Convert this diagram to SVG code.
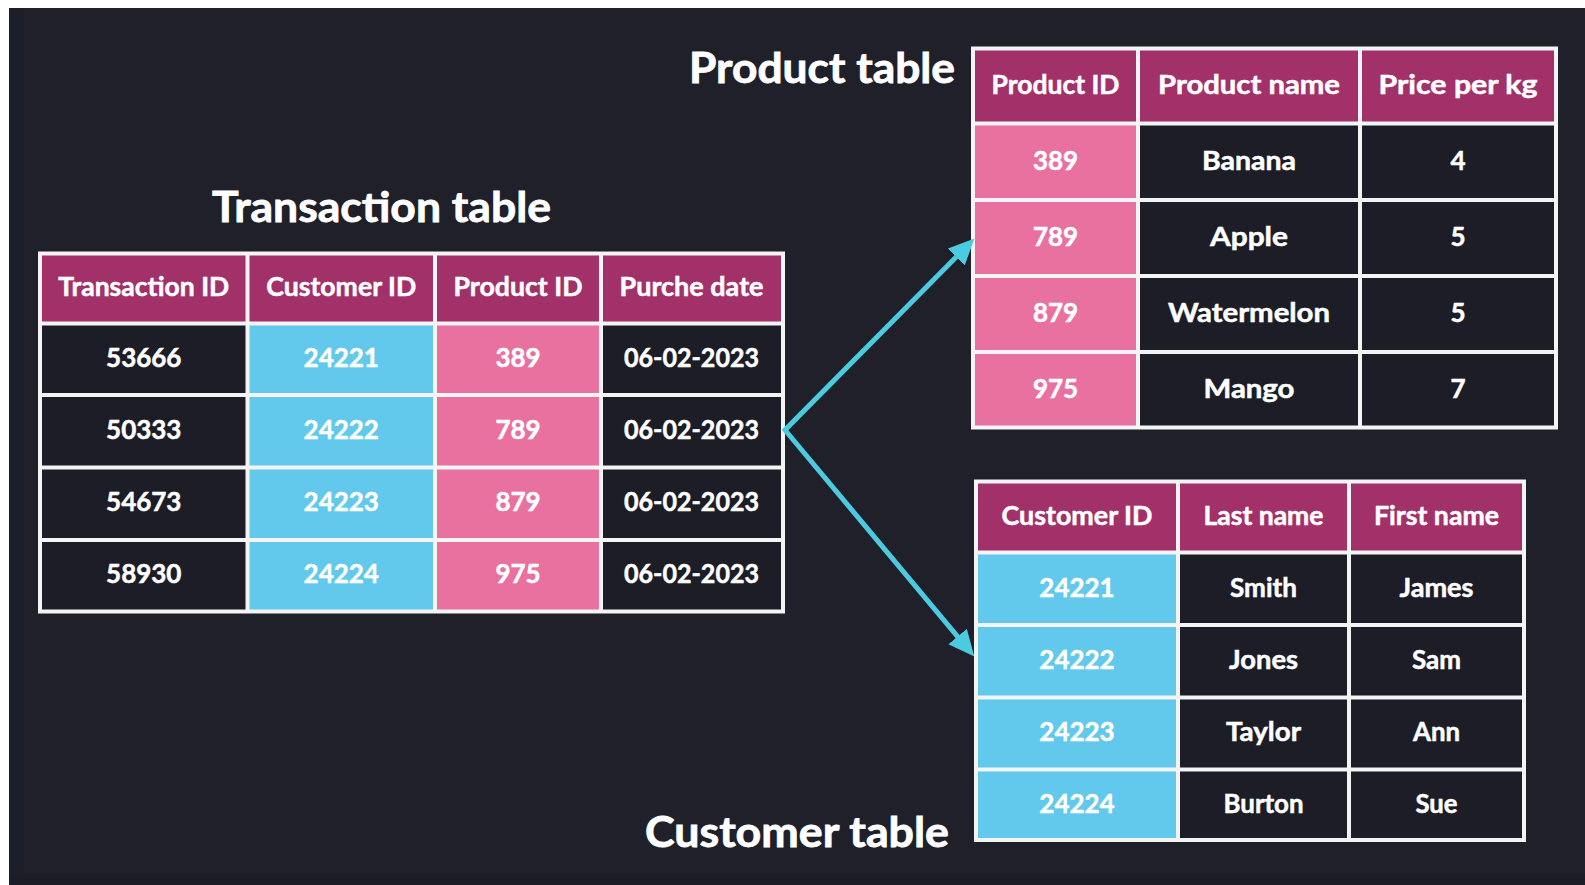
<svg xmlns="http://www.w3.org/2000/svg" width="1585" height="885" viewBox="0 0 1585 885">
  <defs>
    <style>
      .frame { fill: #f4f4f4; }
      .hd { fill: #a2316a; }
      .pk { fill: #e9719f; }
      .bl { fill: #62c9ec; }
      .dk { fill: #1c1d26; }
      .t { font-family: Lato, "Open Sans", "Liberation Sans", sans-serif; font-weight: 700; font-size: 26px; fill: #ffffff; stroke: #ffffff; stroke-width: 0.5px; text-anchor: middle; }
      .title { font-family: Lato, "Open Sans", "Liberation Sans", sans-serif; font-weight: 700; font-size: 42px; fill: #ffffff; stroke: #ffffff; stroke-width: 0.8px; }
      .link { fill: none; stroke: #4bcbdf; stroke-width: 5; stroke-linejoin: miter; stroke-miterlimit: 10; }
    </style>
    <marker id="head" markerUnits="userSpaceOnUse" markerWidth="27" markerHeight="25" refX="14" refY="12" orient="auto-start-reverse">
      <path d="M0,0 L26,12 L0,24 z" fill="#4bcbdf"/>
    </marker>
  </defs>

  <!-- page -->
  <rect x="0" y="0" width="1585" height="885" fill="#ffffff"/>
  <rect x="9" y="8" width="1576" height="877" fill="#1f2029"/>
  <rect x="9" y="8" width="14" height="877" fill="#1c1e2a"/>
  <rect x="9" y="874" width="1576" height="11" fill="#1c1d26"/>

  <!-- titles -->
  <text class="title" x="212" y="222" textLength="339" lengthAdjust="spacingAndGlyphs">Transaction table</text>
  <text class="title" x="689" y="83" textLength="266" lengthAdjust="spacingAndGlyphs">Product table</text>
  <text class="title" x="645" y="847" textLength="304" lengthAdjust="spacingAndGlyphs">Customer table</text>

  <!-- Transaction table -->
  <g id="transaction-table">
    <rect class="frame" x="38" y="251.5" width="747" height="362"/>
    <!-- header -->
    <rect class="hd" x="42" y="255.5" width="203.5" height="66"/>
    <rect class="hd" x="249.5" y="255.5" width="183.5" height="66"/>
    <rect class="hd" x="437" y="255.5" width="162" height="66"/>
    <rect class="hd" x="603" y="255.5" width="178" height="66"/>
    <!-- row 1 -->
    <rect class="dk" x="42" y="325.5" width="203.5" height="67.5"/>
    <rect class="bl" x="249.5" y="325.5" width="183.5" height="67.5"/>
    <rect class="pk" x="437" y="325.5" width="162" height="67.5"/>
    <rect class="dk" x="603" y="325.5" width="178" height="67.5"/>
    <!-- row 2 -->
    <rect class="dk" x="42" y="397" width="203.5" height="68.5"/>
    <rect class="bl" x="249.5" y="397" width="183.5" height="68.5"/>
    <rect class="pk" x="437" y="397" width="162" height="68.5"/>
    <rect class="dk" x="603" y="397" width="178" height="68.5"/>
    <!-- row 3 -->
    <rect class="dk" x="42" y="469.5" width="203.5" height="68.5"/>
    <rect class="bl" x="249.5" y="469.5" width="183.5" height="68.5"/>
    <rect class="pk" x="437" y="469.5" width="162" height="68.5"/>
    <rect class="dk" x="603" y="469.5" width="178" height="68.5"/>
    <!-- row 4 -->
    <rect class="dk" x="42" y="542" width="203.5" height="67.5"/>
    <rect class="bl" x="249.5" y="542" width="183.5" height="67.5"/>
    <rect class="pk" x="437" y="542" width="162" height="67.5"/>
    <rect class="dk" x="603" y="542" width="178" height="67.5"/>

    <text class="t" x="143.75" y="296" textLength="171" lengthAdjust="spacingAndGlyphs">Transaction ID</text>
    <text class="t" x="341.25" y="296" textLength="150" lengthAdjust="spacingAndGlyphs">Customer ID</text>
    <text class="t" x="518" y="296" textLength="129" lengthAdjust="spacingAndGlyphs">Product ID</text>
    <text class="t" x="691.5" y="296" textLength="144" lengthAdjust="spacingAndGlyphs">Purche date</text>

    <text class="t" x="143.75" y="367">53666</text>
    <text class="t" x="341.25" y="367">24221</text>
    <text class="t" x="518" y="367">389</text>
    <text class="t" x="691.5" y="367" textLength="135" lengthAdjust="spacingAndGlyphs">06-02-2023</text>

    <text class="t" x="143.75" y="439">50333</text>
    <text class="t" x="341.25" y="439">24222</text>
    <text class="t" x="518" y="439">789</text>
    <text class="t" x="691.5" y="439" textLength="135" lengthAdjust="spacingAndGlyphs">06-02-2023</text>

    <text class="t" x="143.75" y="511">54673</text>
    <text class="t" x="341.25" y="511">24223</text>
    <text class="t" x="518" y="511">879</text>
    <text class="t" x="691.5" y="511" textLength="135" lengthAdjust="spacingAndGlyphs">06-02-2023</text>

    <text class="t" x="143.75" y="583">58930</text>
    <text class="t" x="341.25" y="583">24224</text>
    <text class="t" x="518" y="583">975</text>
    <text class="t" x="691.5" y="583" textLength="135" lengthAdjust="spacingAndGlyphs">06-02-2023</text>
  </g>

  <!-- Product table -->
  <g id="product-table">
    <rect class="frame" x="971" y="46.5" width="587" height="383"/>
    <rect class="hd" x="975" y="50.5" width="161" height="71"/>
    <rect class="hd" x="1140" y="50.5" width="218" height="71"/>
    <rect class="hd" x="1362" y="50.5" width="192" height="71"/>

    <rect class="pk" x="975" y="125.5" width="161" height="72.5"/>
    <rect class="dk" x="1140" y="125.5" width="218" height="72.5"/>
    <rect class="dk" x="1362" y="125.5" width="192" height="72.5"/>

    <rect class="pk" x="975" y="202" width="161" height="72"/>
    <rect class="dk" x="1140" y="202" width="218" height="72"/>
    <rect class="dk" x="1362" y="202" width="192" height="72"/>

    <rect class="pk" x="975" y="278" width="161" height="72"/>
    <rect class="dk" x="1140" y="278" width="218" height="72"/>
    <rect class="dk" x="1362" y="278" width="192" height="72"/>

    <rect class="pk" x="975" y="354" width="161" height="71.5"/>
    <rect class="dk" x="1140" y="354" width="218" height="71.5"/>
    <rect class="dk" x="1362" y="354" width="192" height="71.5"/>

    <text class="t" x="1055.5" y="93.5" textLength="128" lengthAdjust="spacingAndGlyphs">Product ID</text>
    <text class="t" x="1249" y="93.5" textLength="182" lengthAdjust="spacingAndGlyphs">Product name</text>
    <text class="t" x="1458" y="93.5" textLength="159" lengthAdjust="spacingAndGlyphs">Price per kg</text>

    <text class="t" x="1055.5" y="169.5">389</text>
    <text class="t" x="1249" y="169.5" textLength="94" lengthAdjust="spacingAndGlyphs">Banana</text>
    <text class="t" x="1458" y="169.5">4</text>

    <text class="t" x="1055.5" y="245.5">789</text>
    <text class="t" x="1249" y="245.5" textLength="78" lengthAdjust="spacingAndGlyphs">Apple</text>
    <text class="t" x="1458" y="245.5">5</text>

    <text class="t" x="1055.5" y="321.5">879</text>
    <text class="t" x="1249" y="321.5" textLength="162" lengthAdjust="spacingAndGlyphs">Watermelon</text>
    <text class="t" x="1458" y="321.5">5</text>

    <text class="t" x="1055.5" y="397.5">975</text>
    <text class="t" x="1249" y="397.5" textLength="91" lengthAdjust="spacingAndGlyphs">Mango</text>
    <text class="t" x="1458" y="397.5">7</text>
  </g>

  <!-- Customer table -->
  <g id="customer-table">
    <rect class="frame" x="974" y="479.5" width="552" height="362.5"/>
    <rect class="hd" x="978" y="483.5" width="198" height="67"/>
    <rect class="hd" x="1180" y="483.5" width="167" height="67"/>
    <rect class="hd" x="1351" y="483.5" width="171" height="67"/>

    <rect class="bl" x="978" y="554.5" width="198" height="68.5"/>
    <rect class="dk" x="1180" y="554.5" width="167" height="68.5"/>
    <rect class="dk" x="1351" y="554.5" width="171" height="68.5"/>

    <rect class="bl" x="978" y="627" width="198" height="68.5"/>
    <rect class="dk" x="1180" y="627" width="167" height="68.5"/>
    <rect class="dk" x="1351" y="627" width="171" height="68.5"/>

    <rect class="bl" x="978" y="699.5" width="198" height="68"/>
    <rect class="dk" x="1180" y="699.5" width="167" height="68"/>
    <rect class="dk" x="1351" y="699.5" width="171" height="68"/>

    <rect class="bl" x="978" y="771.5" width="198" height="66.5"/>
    <rect class="dk" x="1180" y="771.5" width="167" height="66.5"/>
    <rect class="dk" x="1351" y="771.5" width="171" height="66.5"/>

    <text class="t" x="1077" y="524.5" textLength="151" lengthAdjust="spacingAndGlyphs">Customer ID</text>
    <text class="t" x="1263.5" y="524.5" textLength="120" lengthAdjust="spacingAndGlyphs">Last name</text>
    <text class="t" x="1436.5" y="524.5" textLength="125" lengthAdjust="spacingAndGlyphs">First name</text>

    <text class="t" x="1077" y="596.5">24221</text>
    <text class="t" x="1263.5" y="596.5" textLength="67" lengthAdjust="spacingAndGlyphs">Smith</text>
    <text class="t" x="1436.5" y="596.5" textLength="74" lengthAdjust="spacingAndGlyphs">James</text>

    <text class="t" x="1077" y="669">24222</text>
    <text class="t" x="1263.5" y="669" textLength="69" lengthAdjust="spacingAndGlyphs">Jones</text>
    <text class="t" x="1436.5" y="669" textLength="49" lengthAdjust="spacingAndGlyphs">Sam</text>

    <text class="t" x="1077" y="741">24223</text>
    <text class="t" x="1263.5" y="741" textLength="75" lengthAdjust="spacingAndGlyphs">Taylor</text>
    <text class="t" x="1436.5" y="741" textLength="47" lengthAdjust="spacingAndGlyphs">Ann</text>

    <text class="t" x="1077" y="812.5">24224</text>
    <text class="t" x="1263.5" y="812.5" textLength="80" lengthAdjust="spacingAndGlyphs">Burton</text>
    <text class="t" x="1436.5" y="812.5" textLength="42" lengthAdjust="spacingAndGlyphs">Sue</text>
  </g>

  <!-- connectors: Transaction -> Product, Transaction -> Customer -->
  <g id="connectors">
    <path class="link" d="M966,247.1 L785,430 L966.6,647.3" marker-start="url(#head)" marker-end="url(#head)"/>
  </g>
</svg>
